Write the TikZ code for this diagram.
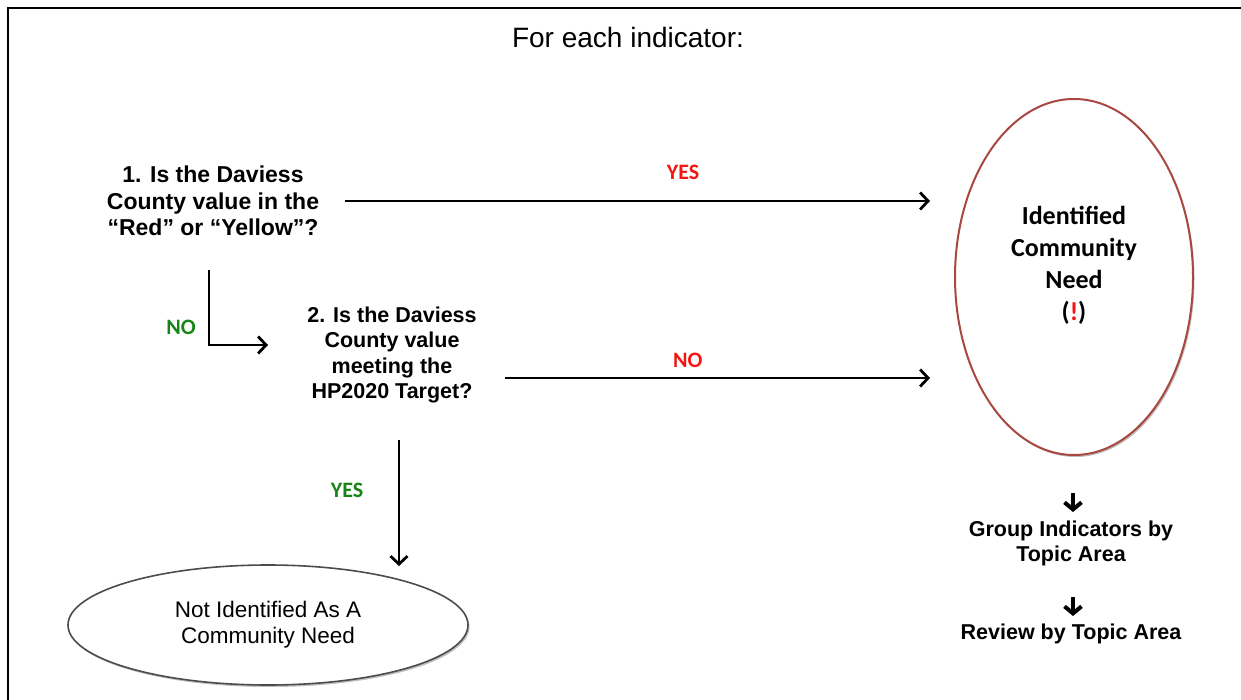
\documentclass[tikz,border=0pt]{standalone}
\usepackage{fontspec}
\setmainfont{Liberation Sans}
\newfontfamily\calibfont{Carlito}
\usetikzlibrary{arrows.meta, shapes.geometric, shadows}
\definecolor{needred}{RGB}{168,72,64}
\definecolor{yesred}{RGB}{245,20,20}
\definecolor{nogreen}{RGB}{24,132,24}

\begin{document}
\begin{tikzpicture}[x=1pt,y=-1pt,>={Straight Barb[length=8pt,width=17pt,line width=2.8pt]}]
  \useasboundingbox (0,0) rectangle (1241,700);
  \tikzset{
    flow/.style={->, line width=1.8pt},
    question/.style={align=center, inner sep=0pt, font=\bfseries\fontsize{23}{26.5}\selectfont},
    answer/.style={inner sep=0pt, font=\calibfont\bfseries\fontsize{22}{24}\selectfont},
    stepnote/.style={align=center, inner sep=0pt, font=\bfseries\fontsize{21.5}{25}\selectfont},
    smalldown/.style={line width=4pt, -{Straight Barb[length=7pt,width=17pt,line width=4pt]}},
    oval/.style={ellipse, draw, fill=white, inner sep=0pt,
      drop shadow={shadow xshift=1.5pt, shadow yshift=-2pt, opacity=.25, fill=black}},
  }

  % frame
  \draw[line width=2.5pt] (1241,8) -- (8,8) -- (8,700);
  \node (title) at (628,37) {\fontsize{28}{32}\selectfont For each indicator:};

  % ovals
  \node[oval, draw=needred, line width=2pt, minimum width=238pt, minimum height=356pt,
    align=center, text depth=28pt, font=\calibfont\bfseries\fontsize{26}{32}\selectfont]
    (need) at (1074,277) {Identified\\Community\\Need\\(\textcolor{yesred}{!})};
  \node[oval, draw=black!70, line width=1.6pt, minimum width=400pt, minimum height=120pt,
    align=center, font=\fontsize{22.5}{26}\selectfont]
    (notneed) at (268,625) {Not Identified As A\\Community Need};

  % questions
  \node[question] (q1) at (213,201) {1. Is the Daviess\\County value in the\\“Red” or “Yellow”?};
  \node[question, font=\bfseries\fontsize{21.5}{25.3}\selectfont] (q2) at (392,355)
    {2. Is the Daviess\\County value\\meeting the\\HP2020 Target?};

  % arrow end points
  \coordinate (q1out) at (345,201);
  \coordinate (q1in) at (930,201);
  \coordinate (q2out) at (505,378);
  \coordinate (q2in) at (930,378);
  \coordinate (q1down) at (209,270);
  \coordinate (q2left) at (268,345);
  \coordinate (q2down) at (399,440);
  \coordinate (ovaltop) at (399,566);

  % arrows
  \draw[flow] (q1out) -- (q1in) node[answer, text=yesred, pos=.578, above=20pt] (yes1) {YES};
  \draw[flow] (q1down) |- (q2left);
  \node[answer, text=nogreen] (no1) at (181,327) {NO};
  \draw[flow] (q2out) -- (q2in) node[answer, text=yesred, pos=.43, above=9pt] (no2) {NO};
  \draw[flow] (q2down) -- (ovaltop);
  \node[answer, text=nogreen] (yes2) at (347,490) {YES};

  % after the need
  \coordinate (d1a) at (1073,493);
  \coordinate (d1b) at (1073,512);
  \coordinate (d2a) at (1073,597);
  \coordinate (d2b) at (1073,616);
  \draw[smalldown] (d1a) -- (d1b);
  \node[stepnote] (group) at (1071,543) {Group Indicators by\\Topic Area};
  \draw[smalldown] (d2a) -- (d2b);
  \node[stepnote] (review) at (1071,634) {Review by Topic Area};

\end{tikzpicture}
\end{document}
